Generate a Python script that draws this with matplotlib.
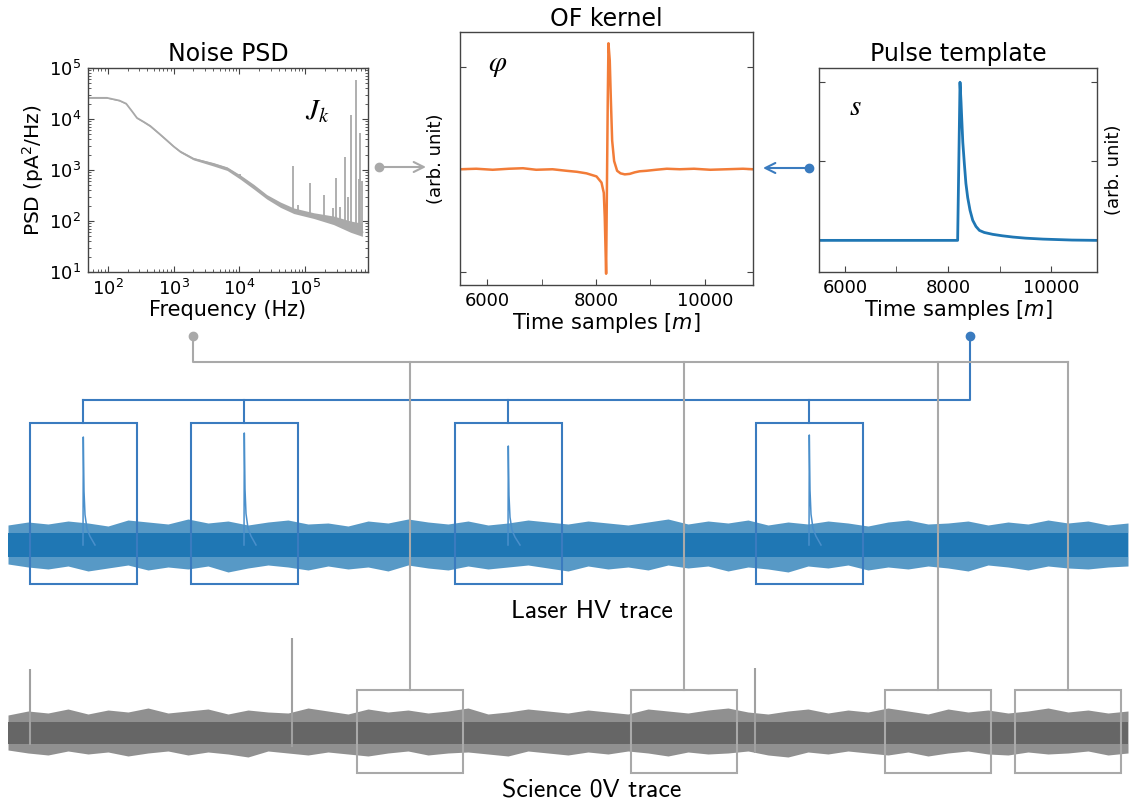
import matplotlib
matplotlib.use('Agg')
import matplotlib.pyplot as plt
from matplotlib.patches import Rectangle
from matplotlib.ticker import FixedLocator, NullFormatter
import numpy as np

# ---- noise PSD
psd_freq = [50, 97, 150, 190, 235, 277, 350, 441, 600, 791, 1000, 1260, 2000, 4000, 6500, 10300,
            16600, 26000, 42000, 67000, 135000, 270000, 490000, 740000]
psd_mid = [2.6e4, 2.6e4, 2.3e4, 2.0e4, 1.4e4, 1.05e4, 8.8e3, 7.3e3, 5.2e3, 3.8e3, 2.9e3, 2.3e3,
           1.66e3, 1.3e3, 1.07e3, 7.3e2, 4.7e2, 3.0e2, 2.1e2, 1.6e2, 1.3e2, 1.03e2, 76, 60]
psd_lo = [2.55e4, 2.55e4, 2.25e4, 1.95e4, 1.37e4, 1.02e4, 8.5e3, 7.0e3, 5.0e3, 3.65e3, 2.8e3, 2.2e3,
          1.58e3, 1.2e3, 0.98e3, 6.6e2, 4.2e2, 2.7e2, 1.85e2, 1.4e2, 1.12e2, 85, 60, 50]
psd_hi = [2.65e4, 2.65e4, 2.35e4, 2.05e4, 1.43e4, 1.08e4, 9.1e3, 7.6e3, 5.4e3, 3.95e3, 3.0e3, 2.4e3,
          1.75e3, 1.4e3, 1.15e3, 8.0e2, 5.2e2, 3.3e2, 2.35e2, 1.8e2, 1.45e2, 1.25e2, 100, 90]
spike_freq = [1.03e4, 6.5e4, 7.8e4, 1.2e5, 1.9e5, 2.6e5, 2.95e5, 3.4e5, 4.0e5,
              4.4e5, 4.9e5, 6.0e5, 6.5e5, 6.9e5, 7.2e5]
spike_base = [7.3e2, 1.6e2, 1.55e2, 1.35e2, 1.15e2, 1.05e2, 1.02e2, 95, 85,
              80, 76, 65, 62, 60, 58]
spike_top = [8.2e2, 1.2e3, 2.1e2, 5.6e2, 3.2e2, 1.8e2, 7.1e2, 1.9e2, 1.8e3,
             3.0e2, 1.2e4, 5.7e4, 6.8e2, 5.3e3, 6.0e2]

# ---- OF kernel
of_t = [5500, 5800, 6100, 6400, 6657, 6900, 7200, 7458, 7650, 7825, 8008, 8100,
        8142, 8160, 8185, 8203, 8215, 8228, 8252, 8271, 8296, 8332, 8387, 8450,
        8528, 8620, 8711, 8800, 8925, 9100, 9300, 9537, 9800, 10100, 10400, 10700, 10884]
of_v = [0.0, 0.005, -0.005, 0.005, 0.01, -0.005, 0.0, -0.015, -0.025, -0.04, -0.07, -0.13,
        -0.23, -0.47, -1.02, 0.0, 0.67, 1.23, 1.06, 0.70, 0.28, 0.08, -0.015, -0.04,
        -0.05, -0.045, -0.03, -0.02, -0.015, -0.005, 0.005, 0.0, 0.005, -0.005, 0.0, 0.005, 0.0]

# ---- pulse template
pulse_t = [5500, 8185, 8231, 8250, 8263, 8285, 8315, 8345, 8380, 8425, 8477, 8540,
           8607, 8700, 8866, 9050, 9255, 9500, 9838, 10400, 10884]
pulse_v = [0, 0, 1.0, 0.88, 0.78, 0.62, 0.485, 0.36, 0.27, 0.19, 0.127, 0.088,
           0.063, 0.05, 0.038, 0.029, 0.021, 0.014, 0.008, 0.002, 0]

# ---- long traces (time in ms, envelope of the noise band)
trace_t = list(range(0, 113, 2))
laser_hi = [20, 23, 21, 24, 22, 19, 25, 23, 21, 26,
            22, 24, 20, 23, 25, 21, 22, 19, 24, 22,
            26, 23, 21, 24, 20, 22, 25, 23, 21, 24,
            22, 20, 23, 26, 21, 24, 22, 25, 20, 23,
            21, 24, 22, 19, 23, 25, 21, 22, 24, 20,
            23, 21, 25, 22, 24, 20, 22]
laser_lo = [19, 22, 24, 21, 26, 23, 20, 25, 22, 24,
            21, 27, 23, 20, 22, 25, 21, 24, 22, 26,
            20, 23, 25, 21, 24, 22, 20, 23, 26, 21,
            24, 22, 25, 20, 23, 21, 26, 22, 24, 27,
            21, 23, 20, 25, 22, 24, 21, 23, 26, 20,
            22, 25, 21, 23, 24, 22, 21]
sci_hi = [18, 22, 20, 24, 19, 23, 21, 25, 20, 22,
          24, 19, 23, 21, 20, 25, 22, 19, 24, 21,
          23, 20, 22, 25, 19, 21, 24, 22, 20, 23,
          21, 19, 24, 22, 20, 23, 25, 21, 19, 22,
          24, 20, 23, 21, 25, 22, 19, 24, 21, 23,
          20, 22, 25, 21, 23, 20, 22]
sci_lo = [17, 20, 22, 18, 21, 19, 23, 20, 18, 22,
          19, 21, 24, 18, 20, 22, 19, 21, 23, 20,
          18, 22, 20, 19, 21, 23, 18, 20, 22, 19,
          21, 18, 20, 23, 19, 21, 20, 18, 22, 24,
          19, 21, 18, 20, 22, 19, 23, 20, 18, 21,
          22, 19, 21, 20, 18, 22, 20]
laser_pulse_t = [7.5, 23.6, 50.0, 80.1]
laser_pulse_amp = [108, 112, 99, 110]
pulse_dt = [0, 0.03, 0.1, 0.2, 0.4, 0.7, 1.2]
pulse_frac = [0, 1, 0.5, 0.28, 0.15, 0.08, 0]
sci_spike_t = [2.2, 28.4, 74.7]
sci_spike_hi = [64, 95, 65]
sci_spike_lo = [-12, -14, -20]
sci_window_t = [40.2, 67.6, 93.0, 106.0]

LASER_CORE = 12
SCI_CORE = 11

blue = '#1f77b4'
blue_c = '#3a7bbf'
orange = '#f27c38'
gray = '#a9a9a9'
spine = '#444444'

W, H = 1130, 808
def fbox(x0, y0, x1, y1):
    return [x0 / W, 1 - y1 / H, (x1 - x0) / W, (y1 - y0) / H]

fig = plt.figure(figsize=(11.3, 8.08), dpi=100)

def style(ax):
    for s in ax.spines.values():
        s.set_color(spine)
        s.set_linewidth(1.0)
    ax.tick_params(which='both', direction='in', colors=spine, labelcolor='black',
                   labelsize=13, pad=5)
    ax.tick_params(which='major', length=4)

# Noise PSD
ax1 = fig.add_axes(fbox(88, 68, 368, 272))
ax1.fill_between(psd_freq, psd_lo, psd_hi, color=gray, lw=0)
ax1.plot(psd_freq, psd_mid, color=gray, lw=1.3)
ax1.vlines(spike_freq, spike_base, spike_top, color=gray, lw=1.3)
ax1.set_xscale('log')
ax1.set_yscale('log')
ax1.set_xlim(50, 9e5)
ax1.set_ylim(10, 1e5)
style(ax1)
ax1.tick_params(which='both', top=True, right=True)
ax1.tick_params(which='minor', length=2)
ax1.set_xlabel('Frequency (Hz)', fontsize=15, labelpad=1)
ax1.set_ylabel('PSD (pA$^2$/Hz)', fontsize=14.5, labelpad=2)
ax1.set_title('Noise PSD', fontsize=17, pad=5)
ax1.text(0.82, 0.79, r'$J_k$', transform=ax1.transAxes, fontsize=21,
         math_fontfamily='stix', ha='center', va='center')

# OF kernel
ax2 = fig.add_axes(fbox(460, 32, 753, 285))
ax2.plot(of_t, of_v, color=orange, lw=1.8)
ax2.set_xlim(5500, 10884)
ax2.set_ylim(-1.13, 1.34)
style(ax2)
ax2.xaxis.set_major_locator(FixedLocator([6000, 8000, 10000]))
ax2.xaxis.set_minor_locator(FixedLocator([7000, 9000]))
ax2.tick_params(which='minor', length=4)
ax2.set_yticks([-1, 0, 1])
ax2.yaxis.set_major_formatter(NullFormatter())
ax2.tick_params(which='both', right=True)
ax2.set_xlabel('Time samples [$m$]', fontsize=15, labelpad=1)
ax2.set_ylabel('(arb. unit)', fontsize=13, labelpad=6)
ax2.set_title('OF kernel', fontsize=17, pad=4)
ax2.text(0.13, 0.87, r'$\varphi$', transform=ax2.transAxes, fontsize=21,
         math_fontfamily='stix', ha='center', va='center')

# Pulse template
ax3 = fig.add_axes(fbox(819, 68, 1097, 272))
ax3.plot(pulse_t, pulse_v, color=blue, lw=2)
ax3.set_xlim(5500, 10884)
ax3.set_ylim(-0.2, 1.09)
style(ax3)
ax3.xaxis.set_major_locator(FixedLocator([6000, 8000, 10000]))
ax3.xaxis.set_minor_locator(FixedLocator([7000, 9000]))
ax3.tick_params(which='minor', length=4)
ax3.set_yticks([0, 0.5, 1])
ax3.yaxis.set_major_formatter(NullFormatter())
ax3.tick_params(which='both', right=True)
ax3.yaxis.set_label_position('right')
ax3.set_xlabel('Time samples [$m$]', fontsize=15, labelpad=1)
ax3.set_ylabel('(arb. unit)', fontsize=13, labelpad=6)
ax3.set_title('Pulse template', fontsize=17, pad=5)
ax3.text(0.13, 0.81, r'$s$', transform=ax3.transAxes, fontsize=21,
         math_fontfamily='stix', ha='center', va='center')

# Laser HV trace
axl = fig.add_axes(fbox(8, 423, 1130, 584))
axl.set_xlim(0, 112.2)
axl.set_ylim(-39, 122)
axl.axis('off')
lo = [-v for v in laser_lo]
axl.fill_between(trace_t, lo, laser_hi, color=blue, alpha=0.75, lw=0)
axl.fill_between(trace_t, -LASER_CORE, LASER_CORE, color=blue, lw=0)
for t0, a in zip(laser_pulse_t, laser_pulse_amp):
    axl.plot([t0 + d for d in pulse_dt], [a * f for f in pulse_frac],
             color='#4a8fcb', lw=1.1, clip_on=False)

# Science 0V trace
axs = fig.add_axes(fbox(8, 690, 1130, 773))
axs.set_xlim(0, 112.2)
axs.set_ylim(-40, 43)
axs.axis('off')
lo = [-v for v in sci_lo]
axs.fill_between(trace_t, lo, sci_hi, color='#7d7d7d', alpha=0.85, lw=0)
axs.fill_between(trace_t, -SCI_CORE, SCI_CORE, color='#666666', lw=0)
axs.vlines(sci_spike_t, sci_spike_lo, sci_spike_hi, color='#a0a0a0', lw=1.5,
           clip_on=False)

# overlay for connectors, boxes and labels (pixel coordinates)
ax0 = fig.add_axes([0, 0, 1, 1])
ax0.set_xlim(0, W)
ax0.set_ylim(H, 0)
ax0.axis('off')
ax0.patch.set_alpha(0)

def tpx(t):
    return 8 + t * 10.0

for t0 in laser_pulse_t:
    ax0.add_patch(Rectangle((tpx(t0) - 53.5, 423), 107, 161, fill=False,
                            ec=blue_c, lw=1.5))
    ax0.plot([tpx(t0), tpx(t0)], [400, 423], color=blue_c, lw=1.5)
ax0.plot([tpx(laser_pulse_t[0]), 970, 970], [400, 400, 336], color=blue_c, lw=1.5)
ax0.plot([970], [336], 'o', color=blue_c, ms=6)

for t0 in sci_window_t:
    ax0.add_patch(Rectangle((tpx(t0) - 53, 690), 106, 83, fill=False,
                            ec=gray, lw=1.5))
    ax0.plot([tpx(t0), tpx(t0)], [362, 690], color=gray, lw=1.5)
ax0.plot([193, 193, tpx(sci_window_t[-1])], [336, 362, 362], color=gray, lw=1.5)
ax0.plot([193], [336], 'o', color=gray, ms=6)

# arrows into the OF kernel
ax0.annotate('', xy=(426, 167), xytext=(379, 167),
             arrowprops=dict(arrowstyle='->', color=gray, lw=1.5, mutation_scale=18,
                             shrinkA=0, shrinkB=0))
ax0.plot([379], [167], 'o', color=gray, ms=6)
ax0.annotate('', xy=(763, 168), xytext=(809, 168),
             arrowprops=dict(arrowstyle='->', color=blue_c, lw=1.5, mutation_scale=18,
                             shrinkA=0, shrinkB=0))
ax0.plot([809], [168], 'o', color=blue_c, ms=6)

ax0.text(592, 611, 'Laser HV trace', fontsize=18.5, family='cmss10',
         ha='center', va='center')
ax0.text(592, 791, 'Science 0V trace', fontsize=18.5, family='cmss10',
         ha='center', va='center')

fig.savefig('out.png', dpi=100)
